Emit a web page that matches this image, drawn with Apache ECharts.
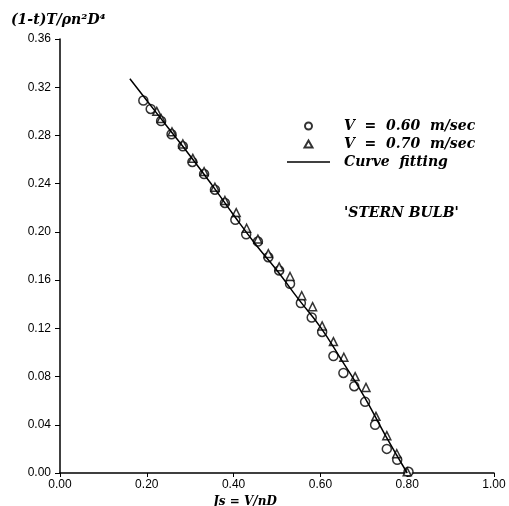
<!DOCTYPE html>
<html>
<head>
<meta charset="utf-8">
<script src="https://cdn.jsdelivr.net/npm/echarts@6/dist/echarts.min.js"></script>
<style>
  html, body { margin: 0; padding: 0; background: #fff; }
  #coolgraph { width: 509px; height: 506px; }
</style>
</head>
<body>
<div id="coolgraph"></div>
<script>
// V = 0.60 m/sec  (J, K)
var circlePts = [
  [0.192, 0.309], [0.209, 0.302], [0.233, 0.292], [0.257, 0.281],
  [0.283, 0.271], [0.305, 0.258], [0.332, 0.248], [0.357, 0.235],
  [0.380, 0.224], [0.404, 0.210], [0.429, 0.198], [0.456, 0.192],
  [0.480, 0.179], [0.505, 0.168], [0.530, 0.157], [0.555, 0.141],
  [0.580, 0.129], [0.604, 0.117], [0.630, 0.097], [0.653, 0.083],
  [0.678, 0.072], [0.703, 0.059], [0.726, 0.040], [0.753, 0.020],
  [0.777, 0.011], [0.803, 0.001]
];
// V = 0.70 m/sec
var trianglePts = [
  [0.223, 0.300], [0.233, 0.294], [0.258, 0.283], [0.283, 0.273],
  [0.306, 0.261], [0.332, 0.250], [0.357, 0.237], [0.380, 0.226],
  [0.406, 0.216], [0.430, 0.203], [0.456, 0.194], [0.480, 0.182],
  [0.505, 0.171], [0.530, 0.163], [0.557, 0.147], [0.582, 0.138],
  [0.604, 0.122], [0.630, 0.109], [0.654, 0.096], [0.680, 0.080],
  [0.705, 0.071], [0.728, 0.047], [0.753, 0.031], [0.776, 0.016],
  [0.800, 0.001]
];
// curve fitting
var fitPts = [
  [0.161, 0.327], [0.20, 0.309], [0.25, 0.286], [0.30, 0.263],
  [0.35, 0.239], [0.40, 0.214], [0.45, 0.190], [0.50, 0.168],
  [0.55, 0.144], [0.60, 0.121], [0.65, 0.093], [0.70, 0.064],
  [0.75, 0.031], [0.80, 0.000]
];
var seriesNames = ['V  =  0.60  m/sec', 'V  =  0.70  m/sec', 'Curve  fitting'];

var myChart = echarts.init(document.getElementById('coolgraph'));
var serifBI = { fontFamily: 'DejaVu Serif', fontStyle: 'italic', fontWeight: 'bold', color: '#000' };
var labelFont = { fontFamily: 'Liberation Sans', fontSize: 12, color: '#000' };

var option = {
  animation: false,
  backgroundColor: '#fff',
  title: {
    text: '(1-t)T/ρn²D⁴',
    left: 6, top: 8,
    textStyle: Object.assign({ fontSize: 14 }, serifBI)
  },
  grid: { left: 60, right: 15, top: 39, bottom: 33, outerBoundsMode: 'none', containLabel: false },
  legend: {
    orient: 'vertical',
    left: 282, top: 114,
    itemWidth: 43, itemHeight: 7, itemGap: 4,
    symbolKeepAspect: true,
    data: [
      { name: seriesNames[0], icon: 'circle' },
      { name: seriesNames[1], icon: 'path://M4,0L8,7L0,7Z' },
      { name: seriesNames[2], icon: 'path://M0,0L43,0L43,1.5L0,1.5Z' }
    ],
    textStyle: Object.assign({ fontSize: 14, padding: [0, 0, 0, 9] }, serifBI)
  },
  graphic: [
    {
      type: 'text', left: 344, top: 206,
      style: Object.assign({ text: "'STERN BULB'", fontSize: 14 }, serifBI, { fill: '#000' })
    }
  ],
  xAxis: {
    type: 'value', min: 0, max: 1, interval: 0.2,
    name: 'Js = V/nD', nameLocation: 'middle', nameGap: 20,
    nameTextStyle: Object.assign({ fontSize: 12, padding: [0, 64, 0, 0] }, serifBI),
    axisLine: { lineStyle: { color: '#000', width: 1.5 } },
    axisTick: { length: 4, lineStyle: { color: '#000' } },
    axisLabel: Object.assign({ margin: 6, formatter: function (v) { return v.toFixed(2); } }, labelFont),
    splitLine: { show: false }
  },
  yAxis: {
    type: 'value', min: 0, max: 0.36, interval: 0.04,
    axisLine: { show: true, lineStyle: { color: '#000', width: 1.5 } },
    axisTick: { show: true, length: 5, lineStyle: { color: '#000' } },
    axisLabel: Object.assign({ margin: 9, formatter: function (v) { return v.toFixed(2); } }, labelFont),
    splitLine: { show: false }
  },
  series: [
    {
      name: seriesNames[0], type: 'scatter', data: circlePts,
      symbol: 'circle', symbolSize: 9,
      itemStyle: { color: '#fff', borderColor: '#000', borderWidth: 1.5 },
      z: 3
    },
    {
      name: seriesNames[1], type: 'scatter', data: trianglePts,
      symbol: 'triangle', symbolSize: 8,
      itemStyle: { color: '#fff', borderColor: '#000', borderWidth: 1.5 },
      z: 4
    },
    {
      name: seriesNames[2], type: 'line', data: fitPts,
      showSymbol: false, symbol: 'none', smooth: true,
      lineStyle: { color: '#000', width: 1.5 },
      itemStyle: { color: '#000' },
      z: 5
    }
  ]
};
option && myChart.setOption(option);
</script>
</body>
</html>
